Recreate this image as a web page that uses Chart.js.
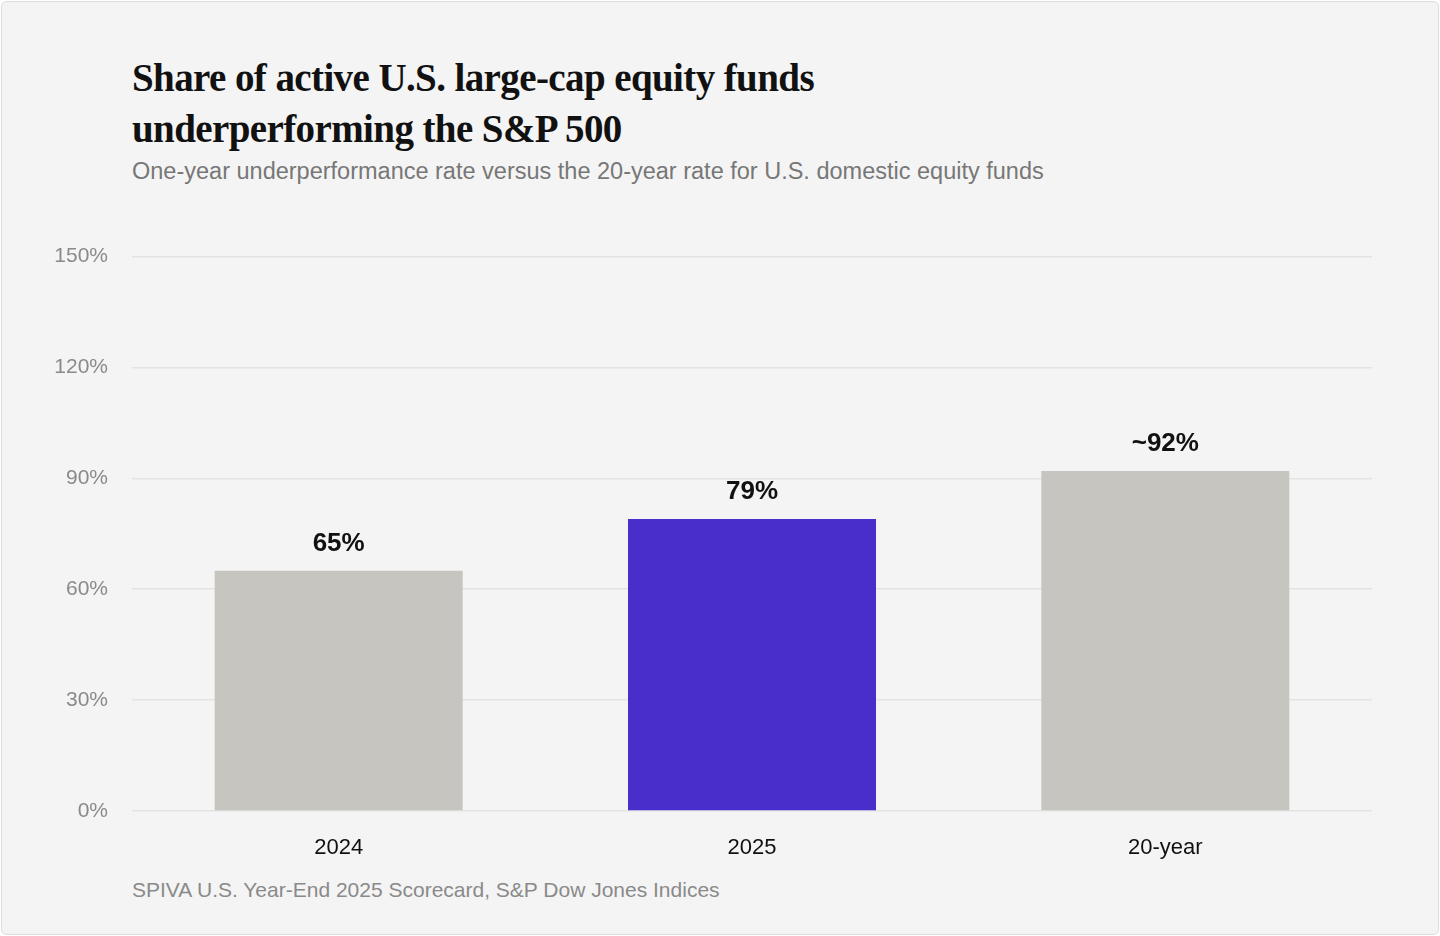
<!DOCTYPE html>
<html><head><meta charset="utf-8">
<script src="https://cdn.jsdelivr.net/npm/chart.js@4"></script>
<style>
html,body{margin:0;padding:0;background:#fff;}
#card{position:absolute;left:1px;top:1px;width:1436px;height:932px;background:#f4f4f4;border:1px solid #dcdcdc;border-radius:6px;}
#title{position:absolute;left:132px;top:52px;font-family:"Liberation Serif",serif;font-weight:bold;font-size:39px;line-height:51px;color:#111;letter-spacing:-0.6px;}
#sub{position:absolute;left:132px;top:158px;font-family:"Liberation Sans",sans-serif;font-size:23.5px;color:#777;}
#src{position:absolute;left:132px;top:878px;font-family:"Liberation Sans",sans-serif;font-size:21px;color:#8a8a8a;}
#wrap{position:absolute;left:0;top:220px;width:1372px;height:660px;}
</style></head><body>
<div id="card"></div>
<div id="title">Share of active U.S. large-cap equity funds<br>underperforming the S&amp;P 500</div>
<div id="sub">One-year underperformance rate versus the 20-year rate for U.S. domestic equity funds</div>
<div id="src">SPIVA U.S. Year-End 2025 Scorecard, S&amp;P Dow Jones Indices</div>
<div id="wrap"><canvas id="c"></canvas></div>
<script>
const categories=["2024","2025","20-year"];
const values=[65,79,92];
const valueLabels=["65%","79%","~92%"];
const barColors=["#c6c5c0","#4a2ecc","#c6c5c0"];
const yTicks=[0,30,60,90,120,150];
const labelPlugin={id:'lbl',afterDatasetsDraw(ch){const ctx=ch.ctx;const m=ch.getDatasetMeta(0);ctx.save();ctx.font='bold 26px "Liberation Sans", sans-serif';ctx.fillStyle='#111';ctx.textAlign='center';ctx.textBaseline='alphabetic';m.data.forEach((b,i)=>{ctx.fillText(valueLabels[i],b.x,b.y-20);});ctx.restore();}};
new Chart(document.getElementById('c'),{type:'bar',
data:{labels:categories,datasets:[{data:values,backgroundColor:barColors,categoryPercentage:1,barPercentage:0.6}]},
options:{responsive:true,maintainAspectRatio:false,animation:false,layout:{padding:{top:14,right:0,left:0,bottom:0}},
plugins:{legend:{display:false},tooltip:{enabled:false}},
scales:{
y:{min:0,max:150,afterFit(s){s.width=132;},afterBuildTicks(s){s.ticks=yTicks.map(v=>({value:v}));},
 border:{display:false},grid:{color:'#e3e3e3',lineWidth:1.5,drawTicks:false},
 ticks:{padding:24,color:'#8a8a8a',font:{family:'"Liberation Sans", sans-serif',size:21},callback:v=>v+'%'}},
x:{afterFit(s){s.height=69;},border:{display:false},grid:{display:false,drawTicks:false},
 ticks:{padding:24,color:'#111',font:{family:'"Liberation Sans", sans-serif',size:22}}}
}},plugins:[labelPlugin]});
</script></body></html>
